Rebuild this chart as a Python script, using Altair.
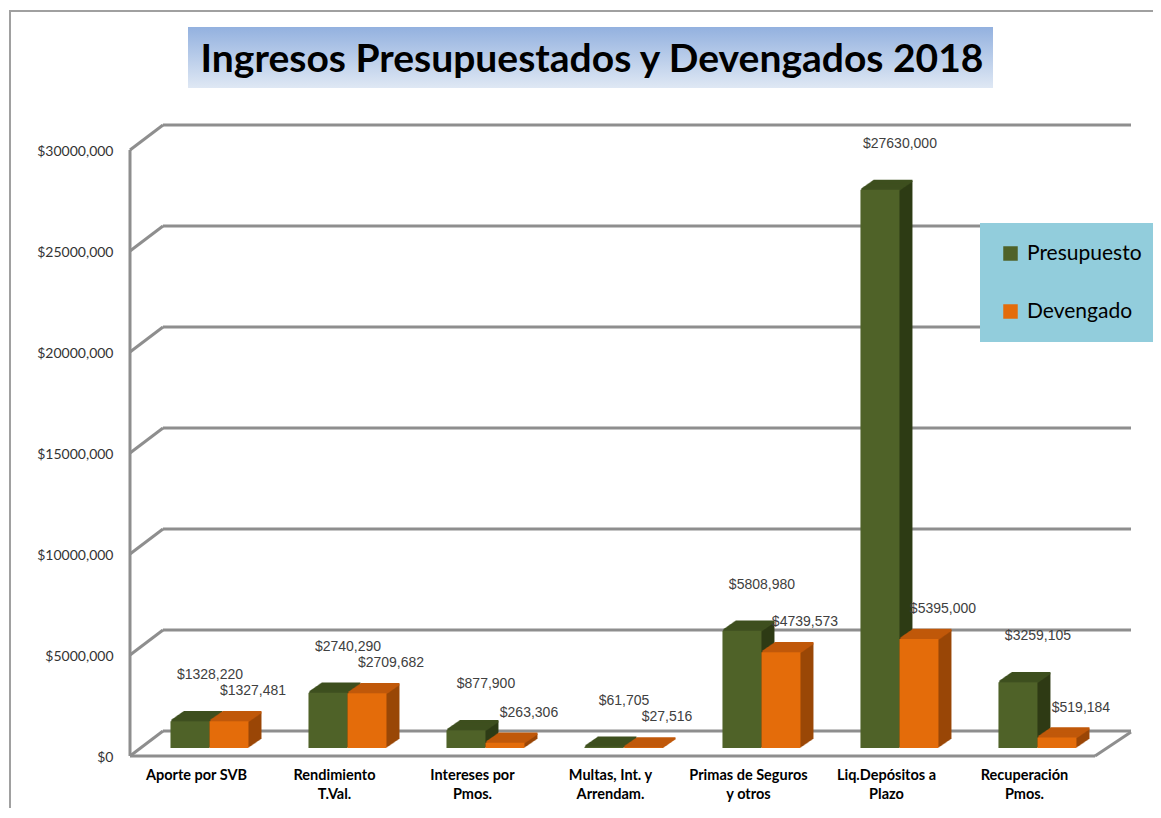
import altair as alt
import pandas as pd

# ---------------- data ----------------
categories = ["Aporte por SVB", "Rendimiento\nT.Val.", "Intereses por\nPmos.",
              "Multas, Int. y\nArrendam.", "Primas de Seguros\ny otros",
              "Liq.Depósitos a\nPlazo", "Recuperación\nPmos."]
presupuesto = [1328220, 2740290, 877900, 61705, 5808980, 27630000, 3259105]
devengado = [1327481, 2709682, 263306, 27516, 4739573, 5395000, 519184]
series_names = ["Presupuesto", "Devengado"]
y_ticks = [0, 5000000, 10000000, 15000000, 20000000, 25000000, 30000000]
title_text = "Ingresos Presupuestados y Devengados 2018"

# ---------------- style / layout ----------------
GREEN, GREEN_TOP, GREEN_SIDE = "#4f6228", "#3e4f1f", "#2e3b15"
ORANGE, ORANGE_TOP, ORANGE_SIDE = "#e46c0a", "#c0580a", "#9a4707"
GRID = "#8e8e8e"
X_MIN, X_MAX = -0.576, 6.417
BAR_W = 0.2826
W, H = 965, 606
DEPTH_X, DEPTH_Y = 13, 9
FRONT_OFF, BACK_OFF_Y, BACK_OFF_X = 8, -17, 33

rows = []
for i, c in enumerate(categories):
    rows.append({"cat": c, "idx": i, "serie": "Presupuesto", "value": presupuesto[i]})
    rows.append({"cat": c, "idx": i, "serie": "Devengado", "value": devengado[i]})
bars_df = pd.DataFrame(rows)
cat_df = pd.DataFrame({"cat": categories, "idx": list(range(len(categories)))})
grid_df = pd.DataFrame({"v": y_ticks})
wall_df = pd.DataFrame({"lo": [min(y_ticks)], "hi": [max(y_ticks)]})
one_df = pd.DataFrame({"a": [0]})

xs = alt.Scale(domain=[X_MIN, X_MAX], nice=False, zero=False)
ys = alt.Scale(domain=[0, max(y_ticks)], nice=False, zero=True)
yax = alt.Axis(values=y_ticks, domain=False, ticks=False, grid=False, title=None,
               labelExpr="datum.value == 0 ? '$0' : '$' + format(datum.value/1000, 'd') + ',000'",
               labelPadding=17, labelOffset=9, labelFont="Lato", labelFontSize=14,
               labelColor="#333333")

def X(f):
    return alt.X(f, scale=xs, axis=None)

def Y(f):
    return alt.Y(f, scale=ys, axis=yax)

layers = []

# outer frame lines (left and top)
layers.append(alt.Chart(one_df).mark_rule(color="#a0a0a0", strokeWidth=2).encode(
    x=alt.value(-120), y=alt.value(-132), y2=alt.value(680)))
layers.append(alt.Chart(one_df).mark_rule(color="#a0a0a0", strokeWidth=2).encode(
    x=alt.value(-120), x2=alt.value(1040), y=alt.value(-131)))

# title box with gradient
layers.append(alt.Chart(one_df).mark_rect(
    fill=alt.Gradient(gradient="linear",
                      stops=[alt.GradientStop(color="#93b1df", offset=0),
                             alt.GradientStop(color="#dfe8f4", offset=1)],
                      x1=0, x2=0, y1=0, y2=1)).encode(
    x=alt.value(58), x2=alt.value(863), y=alt.value(-115), y2=alt.value(-54)))
layers.append(alt.Chart(one_df).mark_text(
    text=title_text, font="Lato", fontSize=39, fontWeight="bold", color="#000000",
    align="center", baseline="alphabetic").encode(x=alt.value(462), y=alt.value(-70)))

# 3D walls: back gridlines, side-wall diagonals, front wall, floor
gbase = alt.Chart(grid_df).transform_calculate(xl=str(X_MIN), xr=str(X_MAX))
layers.append(gbase.mark_rule(color=GRID, strokeWidth=3, xOffset=BACK_OFF_X, x2Offset=BACK_OFF_X + 3,
                              yOffset=BACK_OFF_Y).encode(x=X("xl:Q"), x2="xr:Q", y=Y("v:Q")))
layers.append(gbase.mark_rule(color=GRID, strokeWidth=3, yOffset=FRONT_OFF,
                              x2Offset=BACK_OFF_X, y2Offset=BACK_OFF_Y).encode(
    x=X("xl:Q"), x2="xl:Q", y=Y("v:Q"), y2="v:Q"))
wbase = alt.Chart(wall_df).transform_calculate(xl=str(X_MIN), xr=str(X_MAX))
layers.append(wbase.mark_rule(color=GRID, strokeWidth=3, yOffset=FRONT_OFF, y2Offset=FRONT_OFF).encode(
    x=X("xl:Q"), y=Y("lo:Q"), y2="hi:Q"))
layers.append(wbase.mark_rule(color=GRID, strokeWidth=3, yOffset=FRONT_OFF).encode(
    x=X("xl:Q"), x2="xr:Q", y=Y("lo:Q")))
layers.append(wbase.mark_rule(color=GRID, strokeWidth=3, yOffset=FRONT_OFF,
                              x2Offset=BACK_OFF_X + 3, y2Offset=BACK_OFF_Y + 1).encode(
    x=X("xr:Q"), x2="xr:Q", y=Y("lo:Q"), y2="lo:Q"))

# bars
bbase = alt.Chart(bars_df).transform_calculate(
    x0=f"datum.idx - (datum.serie == 'Presupuesto' ? {BAR_W} : 0)",
    x1=f"datum.idx + (datum.serie == 'Presupuesto' ? 0 : {BAR_W})",
    xc=f"datum.idx + (datum.serie == 'Presupuesto' ? -{BAR_W/2} : {BAR_W/2})",
    zero="0",
    label="'$' + (datum.value >= 1000 ? format(floor(datum.value/1000), 'd') + ',' + format(datum.value % 1000, '03d') : datum.value)",
)

for s, top_c, side_c in [("Presupuesto", GREEN_TOP, GREEN_SIDE), ("Devengado", ORANGE_TOP, ORANGE_SIDE)]:
    sb = bbase.transform_filter(alt.datum.serie == s)
    for k in range(DEPTH_X, 0, -1):
        dy = DEPTH_Y * k / DEPTH_X
        layers.append(sb.mark_rect(fill=side_c, xOffset=k, x2Offset=k, yOffset=-dy, y2Offset=-dy).encode(
            x=X("x0:Q"), x2="x1:Q", y=Y("value:Q"), y2="zero:Q"))
    for k in range(DEPTH_X, 0, -1):
        dy = DEPTH_Y * k / DEPTH_X
        layers.append(sb.mark_rect(fill=top_c, xOffset=k, x2Offset=k, yOffset=-dy - 1.2,
                                   y2Offset=-dy + 1.2).encode(
            x=X("x0:Q"), x2="x1:Q", y=Y("value:Q"), y2="value:Q"))

layers.append(bbase.mark_rect().encode(
    x=X("x0:Q"), x2="x1:Q", y=Y("value:Q"), y2="zero:Q",
    color=alt.Color("serie:N", scale=alt.Scale(domain=series_names, range=[GREEN, ORANGE]),
                    legend=alt.Legend(orient="none", legendX=850, legendY=81, title=None,
                                      fillColor="#92cddc", padding=20, rowPadding=36,
                                      symbolType="square", symbolSize=210, symbolStrokeWidth=0,
                                      labelFont="Lato", labelFontSize=21, labelColor="#000000",
                                      labelOffset=6, labelLimit=300)),
))

# value labels
for s, dx, dy in [("Presupuesto", 20, -46), ("Devengado", 24, -30)]:
    layers.append(bbase.transform_filter(alt.datum.serie == s).mark_text(
        dx=dx, dy=dy, font="Liberation Sans", fontSize=14, color="#404040").encode(
        x=X("xc:Q"), y=Y("value:Q"), text="label:N"))

# category labels
layers.append(alt.Chart(cat_df).mark_text(
    dx=-13, font="Lato", fontSize=14.5, fontWeight="bold", color="#000000",
    baseline="top", align="center", lineBreak="\n", lineHeight=19).encode(
    x=X("idx:Q"), y=alt.value(627), text="cat:N"))

chart = alt.layer(*layers).properties(
    width=W, height=H, autosize="none",
    padding={"left": 122, "top": 134, "right": 58, "bottom": 60},
).configure_view(strokeWidth=0)

chart.save("out.html", embed_options={"renderer": "svg", "actions": False})
